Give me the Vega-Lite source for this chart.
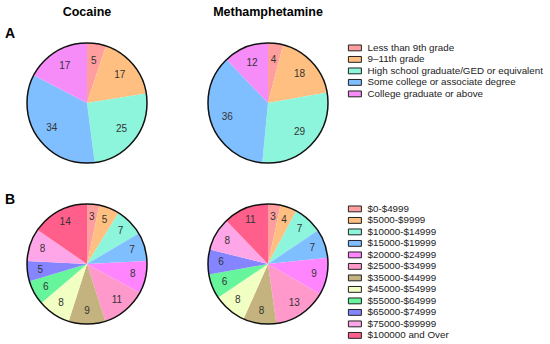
{
  "$schema": "https://vega.github.io/schema/vega-lite/v6.json",
  "padding": 5,
  "config": {
    "view": {"stroke": null},
    "font": "Liberation Sans",
    "legend": {
      "symbolType": "M-2,-0.9H2V0.9H-2Z",
      "symbolSize": 42.25,
      "symbolStrokeWidth": 1,
      "symbolStrokeColor": "#222",
      "symbolOpacity": 1,
      "labelFontSize": 9.8,
      "labelColor": "#222",
      "labelOffset": 7.75,
      "rowPadding": 0.5,
      "padding": 0,
      "offset": 21.75,
      "labelLimit": 300
    }
  },
  "datasets": {
    "edu": [
      {"d": "Cocaine", "k": 1, "c": "Less than 9th grade", "v": 5},
      {"d": "Cocaine", "k": 2, "c": "9–11th grade", "v": 17},
      {"d": "Cocaine", "k": 3, "c": "High school graduate/GED or equivalent", "v": 25},
      {"d": "Cocaine", "k": 4, "c": "Some college or associate degree", "v": 34},
      {"d": "Cocaine", "k": 5, "c": "College graduate or above", "v": 17},
      {"d": "Meth", "k": 1, "c": "Less than 9th grade", "v": 4},
      {"d": "Meth", "k": 2, "c": "9–11th grade", "v": 18},
      {"d": "Meth", "k": 3, "c": "High school graduate/GED or equivalent", "v": 29},
      {"d": "Meth", "k": 4, "c": "Some college or associate degree", "v": 36},
      {"d": "Meth", "k": 5, "c": "College graduate or above", "v": 12}
    ],
    "inc": [
      {"d": "Cocaine", "k": 1, "c": "$0-$4999", "v": 3},
      {"d": "Cocaine", "k": 2, "c": "$5000-$9999", "v": 5},
      {"d": "Cocaine", "k": 3, "c": "$10000-$14999", "v": 7},
      {"d": "Cocaine", "k": 4, "c": "$15000-$19999", "v": 7},
      {"d": "Cocaine", "k": 5, "c": "$20000-$24999", "v": 8},
      {"d": "Cocaine", "k": 6, "c": "$25000-$34999", "v": 11},
      {"d": "Cocaine", "k": 7, "c": "$35000-$44999", "v": 9},
      {"d": "Cocaine", "k": 8, "c": "$45000-$54999", "v": 8},
      {"d": "Cocaine", "k": 9, "c": "$55000-$64999", "v": 6},
      {"d": "Cocaine", "k": 10, "c": "$65000-$74999", "v": 5},
      {"d": "Cocaine", "k": 11, "c": "$75000-$99999", "v": 8},
      {"d": "Cocaine", "k": 12, "c": "$100000 and Over", "v": 14},
      {"d": "Meth", "k": 1, "c": "$0-$4999", "v": 3},
      {"d": "Meth", "k": 2, "c": "$5000-$9999", "v": 4},
      {"d": "Meth", "k": 3, "c": "$10000-$14999", "v": 7},
      {"d": "Meth", "k": 4, "c": "$15000-$19999", "v": 7},
      {"d": "Meth", "k": 5, "c": "$20000-$24999", "v": 9},
      {"d": "Meth", "k": 6, "c": "$25000-$34999", "v": 13},
      {"d": "Meth", "k": 7, "c": "$35000-$44999", "v": 8},
      {"d": "Meth", "k": 8, "c": "$45000-$54999", "v": 8},
      {"d": "Meth", "k": 9, "c": "$55000-$64999", "v": 6},
      {"d": "Meth", "k": 10, "c": "$65000-$74999", "v": 6},
      {"d": "Meth", "k": 11, "c": "$75000-$99999", "v": 8},
      {"d": "Meth", "k": 12, "c": "$100000 and Over", "v": 11}
    ]
  },
  "spacing": 27,
  "resolve": {"scale": {"color": "independent"}, "legend": {"color": "independent"}},
  "vconcat": [
    {
      "title": {"text": "A", "anchor": "start", "frame": "group", "fontSize": 14, "fontWeight": "bold", "color": "#000", "dx": -22, "dy": 35, "offset": 0},
      "spacing": 55,
      "resolve": {"scale": {"color": "independent"}, "legend": {"color": "independent"}},
      "hconcat": [
        {
          "title": {"text": "Cocaine", "fontSize": 12.5, "fontWeight": "bold", "color": "#000", "offset": 22},
          "width": 120, "height": 120,
          "layer": [
            {
              "data": {"name": "edu"},
              "transform": [{"filter": "datum.d === 'Cocaine'"}],
              "mark": {"type": "arc", "outerRadius": 60},
              "encoding": {
                "theta": {"field": "v", "type": "quantitative", "stack": true},
                "order": {"field": "k", "type": "quantitative"},
                "color": {"field": "c", "type": "nominal", "legend": null,
                  "scale": {"domain": ["Less than 9th grade", "9–11th grade", "High school graduate/GED or equivalent", "Some college or associate degree", "College graduate or above"],
                            "range": ["#FF9E9E", "#FFBF80", "#8CF5DC", "#80BFFF", "#F58CF8"]}}
              }
            },
            {
              "data": {"values": [{}]},
              "mark": {"type": "arc", "theta": 0, "theta2": 6.2832, "outerRadius": 60, "filled": false, "stroke": "#111", "strokeWidth": 1.5},
              "encoding": {}
            },
            {
              "data": {"name": "edu"},
              "transform": [{"filter": "datum.d === 'Cocaine'"}],
              "mark": {"type": "text", "radius": 43, "fontSize": 10, "fill": "#333"},
              "encoding": {
                "theta": {"field": "v", "type": "quantitative", "stack": true},
                "order": {"field": "k", "type": "quantitative"},
                "text": {"field": "v", "type": "quantitative"}
              }
            }
          ]
        },
        {
          "title": {"text": "Methamphetamine", "fontSize": 12.5, "fontWeight": "bold", "color": "#000", "offset": 22},
          "width": 120, "height": 120,
          "layer": [
            {
              "data": {"name": "edu"},
              "transform": [{"filter": "datum.d === 'Meth'"}],
              "mark": {"type": "arc", "outerRadius": 60},
              "encoding": {
                "theta": {"field": "v", "type": "quantitative", "stack": true},
                "order": {"field": "k", "type": "quantitative"},
                "color": {"field": "c", "type": "nominal", "legend": {"title": null, "orient": "right"},
                  "scale": {"domain": ["Less than 9th grade", "9–11th grade", "High school graduate/GED or equivalent", "Some college or associate degree", "College graduate or above"],
                            "range": ["#FF9E9E", "#FFBF80", "#8CF5DC", "#80BFFF", "#F58CF8"]}}
              }
            },
            {
              "data": {"values": [{}]},
              "mark": {"type": "arc", "theta": 0, "theta2": 6.2832, "outerRadius": 60, "filled": false, "stroke": "#111", "strokeWidth": 1.5},
              "encoding": {}
            },
            {
              "data": {"name": "edu"},
              "transform": [{"filter": "datum.d === 'Meth'"}],
              "mark": {"type": "text", "radius": 43, "fontSize": 10, "fill": "#333"},
              "encoding": {
                "theta": {"field": "v", "type": "quantitative", "stack": true},
                "order": {"field": "k", "type": "quantitative"},
                "text": {"field": "v", "type": "quantitative"}
              }
            }
          ]
        }
      ]
    },
    {
      "title": {"text": "B", "anchor": "start", "frame": "group", "fontSize": 14, "fontWeight": "bold", "color": "#000", "dx": -22, "offset": -6},
      "spacing": 55,
      "resolve": {"scale": {"color": "independent"}, "legend": {"color": "independent"}},
      "hconcat": [
        {
          "width": 120, "height": 120,
          "layer": [
            {
              "data": {"name": "inc"},
              "transform": [{"filter": "datum.d === 'Cocaine'"}],
              "mark": {"type": "arc", "outerRadius": 60},
              "encoding": {
                "theta": {"field": "v", "type": "quantitative", "stack": true},
                "order": {"field": "k", "type": "quantitative"},
                "color": {"field": "c", "type": "nominal", "legend": null,
                  "scale": {"domain": ["$0-$4999", "$5000-$9999", "$10000-$14999", "$15000-$19999", "$20000-$24999", "$25000-$34999", "$35000-$44999", "$45000-$54999", "$55000-$64999", "$65000-$74999", "$75000-$99999", "$100000 and Over"],
                            "range": ["#FF9E9E", "#FFBF80", "#8CF5DC", "#80BFFF", "#FF85FF", "#FF99CC", "#C4B37F", "#F2FFC2", "#66F59B", "#8585FF", "#FFA6E8", "#FF5F8A"]}}
              }
            },
            {
              "data": {"values": [{}]},
              "mark": {"type": "arc", "theta": 0, "theta2": 6.2832, "outerRadius": 60, "filled": false, "stroke": "#111", "strokeWidth": 1.5},
              "encoding": {}
            },
            {
              "data": {"name": "inc"},
              "transform": [{"filter": "datum.d === 'Cocaine'"}],
              "mark": {"type": "text", "radius": 47, "fontSize": 10, "fill": "#333"},
              "encoding": {
                "theta": {"field": "v", "type": "quantitative", "stack": true},
                "order": {"field": "k", "type": "quantitative"},
                "text": {"field": "v", "type": "quantitative"}
              }
            }
          ]
        },
        {
          "width": 120, "height": 120,
          "layer": [
            {
              "data": {"name": "inc"},
              "transform": [{"filter": "datum.d === 'Meth'"}],
              "mark": {"type": "arc", "outerRadius": 60},
              "encoding": {
                "theta": {"field": "v", "type": "quantitative", "stack": true},
                "order": {"field": "k", "type": "quantitative"},
                "color": {"field": "c", "type": "nominal", "legend": {"title": null, "orient": "right"},
                  "scale": {"domain": ["$0-$4999", "$5000-$9999", "$10000-$14999", "$15000-$19999", "$20000-$24999", "$25000-$34999", "$35000-$44999", "$45000-$54999", "$55000-$64999", "$65000-$74999", "$75000-$99999", "$100000 and Over"],
                            "range": ["#FF9E9E", "#FFBF80", "#8CF5DC", "#80BFFF", "#FF85FF", "#FF99CC", "#C4B37F", "#F2FFC2", "#66F59B", "#8585FF", "#FFA6E8", "#FF5F8A"]}}
              }
            },
            {
              "data": {"values": [{}]},
              "mark": {"type": "arc", "theta": 0, "theta2": 6.2832, "outerRadius": 60, "filled": false, "stroke": "#111", "strokeWidth": 1.5},
              "encoding": {}
            },
            {
              "data": {"name": "inc"},
              "transform": [{"filter": "datum.d === 'Meth'"}],
              "mark": {"type": "text", "radius": 47, "fontSize": 10, "fill": "#333"},
              "encoding": {
                "theta": {"field": "v", "type": "quantitative", "stack": true},
                "order": {"field": "k", "type": "quantitative"},
                "text": {"field": "v", "type": "quantitative"}
              }
            }
          ]
        }
      ]
    }
  ]
}
